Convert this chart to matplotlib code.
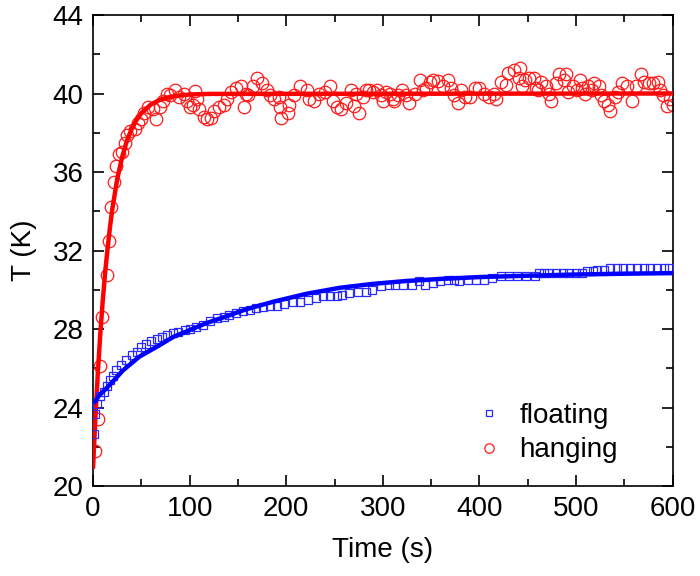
import matplotlib
matplotlib.use("Agg")
import matplotlib.pyplot as plt
from matplotlib.ticker import MultipleLocator

plt.rcParams['font.family'] = ['Liberation Sans', 'DejaVu Sans']

# hanging sample (red circles)
hang_t = [2, 5, 7, 9, 14, 16, 19, 22, 24, 27, 30, 33, 35, 38, 43, 46, 50, 53, 57, 62,
          65, 69, 72, 76, 80, 85, 89, 94, 97, 100, 103, 106, 108, 110, 115, 118, 122, 125, 130, 136,
          139, 143, 148, 153, 156, 158, 160, 166, 170, 175, 180, 183, 187, 192, 193, 195, 202, 203, 208, 214,
          221, 224, 229, 234, 240, 245, 248, 253, 257, 262, 267, 270, 272, 275, 279, 282, 286, 290, 294, 298,
          300, 303, 307, 310, 312, 316, 320, 324, 327, 333, 338, 341, 345, 349, 352, 357, 362, 367, 371, 374,
          378, 381, 385, 390, 395, 400, 405, 410, 415, 417, 422, 427, 430, 436, 441, 442, 444, 447, 451, 456,
          459, 461, 464, 469, 472, 474, 479, 482, 487, 490, 492, 497, 501, 504, 506, 509, 512, 516, 519, 524,
          526, 529, 533, 535, 540, 543, 548, 553, 558, 562, 567, 570, 575, 580, 585, 587, 590, 594, 597, 600]
hang_T = [21.8, 23.4, 26.1, 28.6, 30.75, 32.5, 34.2, 35.5, 36.3, 36.9, 37.0, 37.5, 37.9, 38.1, 38.2, 38.5, 38.7, 39.0, 39.3, 39.2,
          38.7, 39.3, 39.6, 40.0, 39.9, 40.2, 39.8, 40.0, 39.6, 39.3, 39.4, 40.15, 39.7, 39.2, 38.8, 38.7, 38.75, 39.1, 39.3, 39.4,
          39.7, 40.1, 40.3, 40.4, 39.3, 40.0, 39.9, 40.4, 40.8, 40.55, 40.2, 39.9, 39.7, 39.8, 39.3, 38.75, 39.0, 39.4, 39.9, 40.4,
          40.2, 39.7, 39.6, 40.0, 40.1, 40.4, 39.6, 39.3, 39.2, 39.5, 40.2, 39.35, 40.0, 39.0, 39.8, 40.2, 40.2, 40.1, 40.2, 39.9,
          39.6, 40.1, 40.0, 39.7, 39.6, 39.9, 40.2, 39.9, 39.5, 40.0, 40.7, 40.2, 40.3, 40.6, 40.7, 40.65, 40.4, 40.7, 40.3, 39.9,
          39.5, 40.2, 39.8, 39.8, 40.3, 40.3, 40.0, 39.8, 40.0, 39.7, 40.6, 40.45, 41.05, 41.2, 40.8, 41.3, 40.4, 40.7, 40.8, 40.8,
          40.3, 40.2, 40.6, 40.4, 39.95, 39.6, 40.55, 41.0, 40.7, 41.0, 40.1, 40.4, 40.2, 40.7, 40.3, 40.0, 40.4, 40.2, 40.55, 40.4,
          39.9, 39.6, 39.4, 39.1, 39.8, 40.1, 40.55, 40.4, 39.6, 40.4, 41.0, 40.6, 40.55, 40.55, 40.6, 40.2, 39.9, 39.35, 39.7, 39.4]

# floating sample (blue squares)
float_t = [1, 2, 4, 7, 11, 14, 18, 21, 24, 29, 34, 40, 45, 50, 55, 60, 66, 71, 76, 83,
           88, 95, 100, 107, 114, 121, 128, 135, 141, 148, 155, 162, 169, 176, 183, 190, 198, 207, 214, 222,
           231, 238, 245, 252, 258, 265, 274, 282, 289, 298, 306, 313, 321, 330, 337, 344, 352, 359, 367, 374,
           379, 388, 396, 405, 413, 422, 431, 439, 448, 457, 462, 467, 472, 479, 486, 493, 500, 506, 511, 517,
           522, 529, 535, 542, 549, 556, 563, 570, 577, 584, 591, 596]
float_T = [22.65, 23.7, 24.2, 24.6, 24.8, 25.1, 25.4, 25.6, 25.9, 26.15, 26.4, 26.7, 26.85, 27.1, 27.25, 27.4, 27.5, 27.6, 27.7, 27.8,
           27.85, 27.95, 28.0, 28.1, 28.2, 28.4, 28.55, 28.6, 28.7, 28.8, 28.9, 28.97, 29.06, 29.15, 29.2, 29.2, 29.3, 29.4, 29.4, 29.5,
           29.57, 29.66, 29.66, 29.66, 29.74, 29.83, 29.9, 29.9, 30.0, 30.17, 30.26, 30.26, 30.26, 30.26, 30.43, 30.26, 30.34, 30.43, 30.5, 30.5,
           30.43, 30.5, 30.5, 30.52, 30.6, 30.68, 30.68, 30.68, 30.68, 30.68, 30.85, 30.85, 30.85, 30.85, 30.85, 30.85, 30.85, 30.85, 30.94, 30.94,
           31.0, 31.0, 31.1, 31.1, 31.1, 31.1, 31.1, 31.1, 31.1, 31.1, 31.1, 31.1]

# fitted curves, points
hang_fit_t = [0, 2.5, 5, 7.5, 10, 12.5, 15, 17.5, 20, 25, 30, 35, 40, 45, 50, 60, 70, 80, 90, 100, 120, 600]
hang_fit_T = [21.0, 23.6, 25.85, 27.8, 29.45, 30.9, 32.1, 33.2, 34.15, 35.65, 36.75, 37.6, 38.2, 38.65, 39.0, 39.45, 39.7, 39.83, 39.9, 39.95, 39.98, 40.0]
float_fit_t = [2, 6, 10, 18, 31, 48, 66, 83, 100, 117, 135, 158, 187, 221, 255, 289, 324, 358, 400, 450, 500, 550, 600]
float_fit_T = [24.3, 24.6, 24.8, 25.2, 25.9, 26.6, 27.1, 27.6, 27.95, 28.3, 28.6, 29.0, 29.4, 29.8, 30.1, 30.3, 30.45, 30.55, 30.65, 30.72, 30.78, 30.82, 30.85]

fig = plt.figure(figsize=(7, 5.76), dpi=100)
ax = fig.add_axes([0.133, 0.156, 0.828, 0.818])

ax.plot(hang_t, hang_T, linestyle='none', marker='o', markersize=9, markerfacecolor='none',
        markeredgecolor='#ff1a1a', markeredgewidth=0.9, label='hanging', zorder=2)
ax.plot(hang_fit_t, hang_fit_T, color='#ff0000', linewidth=3.2, zorder=3)
ax.plot(float_t, float_T, linestyle='none', marker='s', markersize=5.5, markerfacecolor='none',
        markeredgecolor='#2a2aff', markeredgewidth=0.9, label='floating', zorder=4)
ax.plot(float_fit_t, float_fit_T, color='#0000ff', linewidth=3.2, zorder=5)

ax.set_xlim(0, 600)
ax.set_ylim(20, 44)
ax.xaxis.set_major_locator(MultipleLocator(100))
ax.xaxis.set_minor_locator(MultipleLocator(50))
ax.yaxis.set_major_locator(MultipleLocator(4))
ax.yaxis.set_minor_locator(MultipleLocator(2))
ax.tick_params(which='both', direction='in', top=True, right=True, labelsize=20, width=1.2)
ax.tick_params(which='major', length=8, pad=7)
ax.tick_params(which='minor', length=5)
for s in ax.spines.values():
    s.set_linewidth(1.2)

ax.set_xlabel('Time (s)', fontsize=20, labelpad=11)
ax.set_ylabel('T (K)', fontsize=20, labelpad=11)

handles, labels = ax.get_legend_handles_labels()
ax.legend(handles[::-1], labels[::-1], loc='lower right', bbox_to_anchor=(0.925, 0.025),
          borderaxespad=0, frameon=False, fontsize=20, markerscale=0.75,
          handlelength=1.2, handletextpad=0.5, labelspacing=0.3)

fig.savefig('out.png', dpi=100)
